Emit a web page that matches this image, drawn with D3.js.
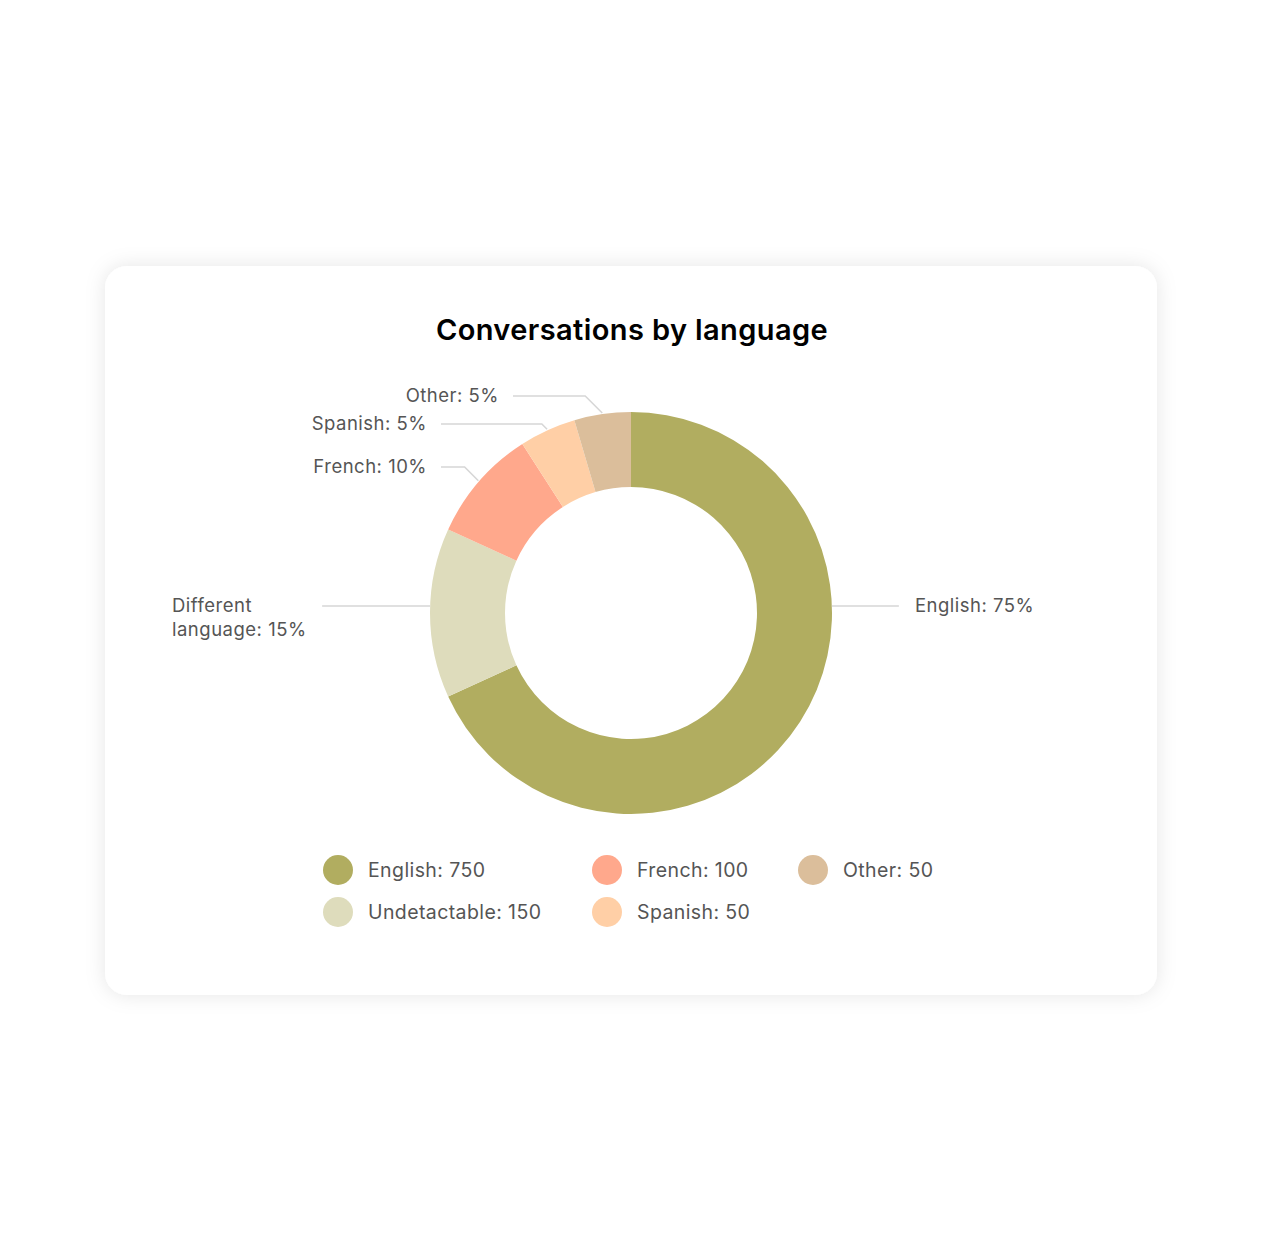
<!DOCTYPE html>
<html><head><meta charset="utf-8">
<script src="https://cdn.jsdelivr.net/npm/d3@7"></script>
<style>
html,body{margin:0;padding:0;background:#fff;}
svg{display:block;}
</style></head>
<body>
<svg id="chart" width="1261" height="1260"></svg>
<script>
// ---- data ----
const categories = ["English", "Undetactable", "French", "Spanish", "Other"];
const values = [750, 150, 100, 50, 50];
const percentLabels = ["English: 75%", "Different\nlanguage: 15%", "French: 10%", "Spanish: 5%", "Other: 5%"];
const legendOrder = ["English", "French", "Other", "Undetactable", "Spanish"];
const colors = ["#b1ad60", "#dedcbc", "#ffa88c", "#ffcfa6", "#dbbe9b"];
const title = "Conversations by language";

// ---- layout ----
const svg = d3.select("#chart");
const defs = svg.append("defs");
const f = defs.append("filter").attr("id","shadow").attr("x","-10%").attr("y","-10%").attr("width","120%").attr("height","120%");
f.append("feDropShadow").attr("dx",0).attr("dy",0).attr("stdDeviation",10).attr("flood-color","#000").attr("flood-opacity",0.1);

svg.append("rect").attr("x",105).attr("y",266).attr("width",1052).attr("height",729)
  .attr("rx",22).attr("fill","#fff").attr("filter","url(#shadow)");

const font = "Inter, 'Open Sans', sans-serif";
svg.append("text").attr("x",632).attr("y",340).attr("text-anchor","middle")
  .attr("font-family",font).attr("font-weight",600).attr("font-size",29)
  .attr("letter-spacing",0.4)
  .attr("fill","#000").text(title);

const cx = 631, cy = 613, rOuter = 201, rInner = 126;
const g = svg.append("g").attr("transform",`translate(${cx},${cy})`);
const color = d3.scaleOrdinal().domain(categories).range(colors);
const pie = d3.pie().sort(null).value(d => d.value);
const data = categories.map((c,i) => ({name:c, value:values[i], label:percentLabels[i]}));
const arcs = pie(data);
const arc = d3.arc().innerRadius(rInner).outerRadius(rOuter);

g.selectAll("path.slice").data(arcs).enter().append("path")
  .attr("d", arc).attr("fill", d => color(d.data.name));

// label layout: y offsets of each label relative to center
const labelY = [-7, -7, -146, -189, -217];
const labelColor = "#555";
arcs.forEach((a, i) => {
  const mid = (a.startAngle + a.endAngle) / 2;
  const right = Math.sin(mid) > 0;
  const ly = labelY[i];
  let pts;
  if (i < 2) {
    const ex = (right ? 1 : -1) * Math.sqrt(rOuter*rOuter - ly*ly);
    const endX = right ? ex + 67 : ex - 108;
    pts = [[ex, ly], [endX, ly]];
  } else {
    const r0 = rOuter + 1;
    const px = r0 * Math.sin(mid), py = -r0 * Math.cos(mid);
    const elbowX = px - (py - ly);
    const endX = i === 4 ? -118 : -190;
    pts = [[px, py], [elbowX, ly], [endX, ly]];
  }
  g.append("path").attr("d", d3.line()(pts)).attr("fill","none")
    .attr("stroke","#d6d6d6").attr("stroke-width",1.5);
  const lastX = pts[pts.length-1][0];
  const lines = a.data.label.split("\n");
  const t = g.append("text").attr("font-family",font).attr("font-size",18.5)
    .attr("letter-spacing",0.5)
    .attr("fill",labelColor)
    .attr("text-anchor", right ? "start" : "end");
  if (lines.length === 1) {
    t.attr("x", right ? lastX + 16 : lastX - 14).attr("y", ly + 6).text(lines[0]);
  } else {
    t.attr("text-anchor","start");
    lines.forEach((ln, k) => {
      t.append("tspan").attr("x", 172 - cx).attr("y", ly + 6 + k*24).text(ln);
    });
  }
});

// legend
const legendPos = [[338,870],[607,870],[813,870],[338,912],[607,912]];
const legendVals = legendOrder.map(n => values[categories.indexOf(n)]);
const lg = svg.append("g");
legendOrder.forEach((n, i) => {
  const [x, y] = legendPos[i];
  lg.append("circle").attr("cx", x).attr("cy", y).attr("r", 15).attr("fill", color(n));
  lg.append("text").attr("x", x + 30).attr("y", y + 7).attr("font-family",font)
    .attr("font-size",19.5).attr("letter-spacing",0.4)
    .attr("fill",labelColor).text(`${n}: ${legendVals[i]}`);
});
</script>
</body></html>
